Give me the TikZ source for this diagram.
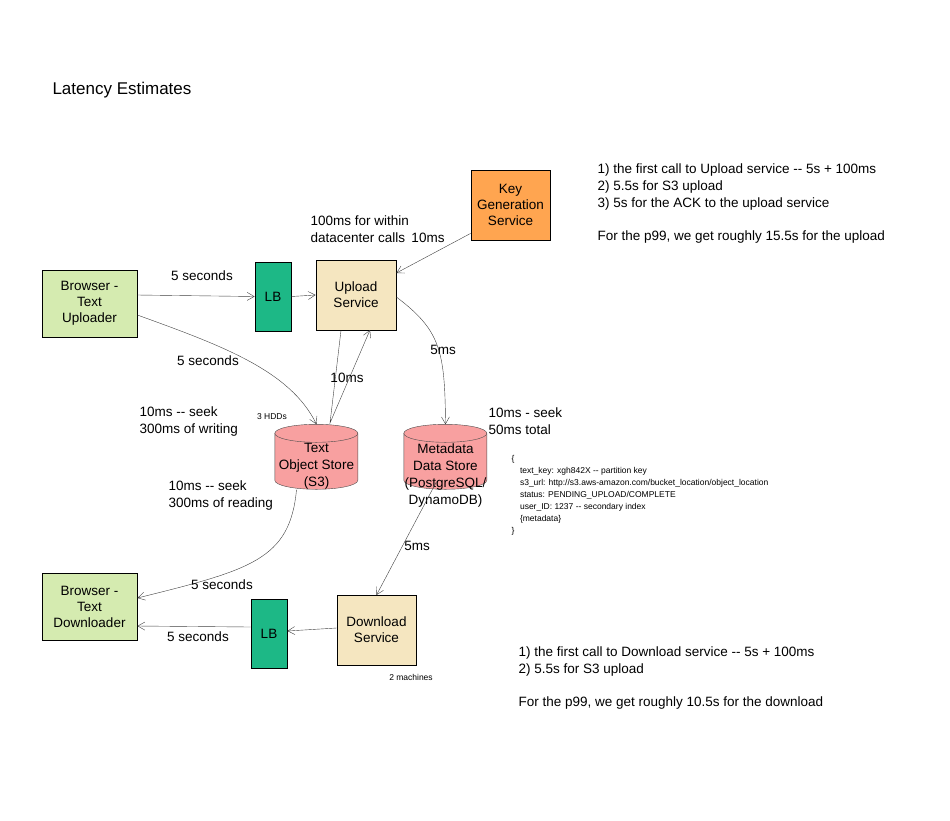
\documentclass[tikz,border=0pt]{standalone}
\usepackage{fontspec}
\setmainfont{Liberation Sans}
\usetikzlibrary{arrows.meta}
\definecolor{browsergreen}{HTML}{D5EBB0}
\definecolor{lbgreen}{HTML}{1DB886}
\definecolor{svctan}{HTML}{F5E6C0}
\definecolor{keyorange}{HTML}{FFA550}
\definecolor{storered}{HTML}{F8A0A0}
\tikzset{
  box/.style={draw, thick, rectangle, align=center, font=\fontsize{13.5}{16}\selectfont},
  store/.style={rectangle, minimum width=83pt, minimum height=65pt},
  lbl/.style={font=\fontsize{13.5}{17}\selectfont, align=left},
  tiny/.style={font=\fontsize{8.5}{12}\selectfont, align=left},
  link/.style={-{Straight Barb[length=7pt,width=8pt]}, draw=black!75}
}
\newcommand{\drumat}[1]{%
  \draw[fill=storered, draw=black!70] (#1.north west) ++(0,9) -- ++(0,47)
    arc[start angle=180, end angle=360, x radius=41.5pt, y radius=9pt] -- ++(0,-47)
    arc[start angle=0, end angle=180, x radius=41.5pt, y radius=9pt] -- cycle;
  \draw[draw=black!70] (#1.north west) ++(0,9)
    arc[start angle=180, end angle=360, x radius=41.5pt, y radius=9pt];
}
\begin{document}
\begin{tikzpicture}[x=1pt, y=-1pt]
    \useasboundingbox (0,0) rectangle (950,820);
    \node[anchor=west, font=\fontsize{17}{20}\selectfont] (title) at (49,90) {Latency Estimates};

    \node[box, fill=browsergreen, minimum width=95pt, minimum height=67pt] (uploader) at (89.5,303.5) {Browser -\\Text\\Uploader};
    \node[box, fill=lbgreen, minimum width=36pt, minimum height=69pt] (lbup) at (273,296.5) {LB};
    \node[box, fill=svctan, minimum width=80pt, minimum height=70pt] (upload) at (356,295) {Upload\\Service};
    \node[box, fill=keyorange, minimum width=79pt, minimum height=70pt] (keygen) at (510.5,205) {Key\\Generation\\Service};
    \node[store] (textstore) at (316.5,457) {};
    \drumat{textstore}
    \node[lbl, align=center] (textstoretxt) at (316.5,466) {Text\\Object Store\\(S3)};
    \node[store] (metastore) at (445.5,457) {};
    \drumat{metastore}
    \node[lbl, align=center] (metastoretxt) at (445.5,475) {Metadata\\Data Store\\(PostgreSQL/\\DynamoDB)};
    \node[box, fill=browsergreen, minimum width=95pt, minimum height=67pt] (downloader) at (89.5,606.5) {Browser -\\Text\\Downloader};
    \node[box, fill=lbgreen, minimum width=36pt, minimum height=69pt] (lbdown) at (269,633.5) {LB};
    \node[box, fill=svctan, minimum width=79pt, minimum height=70pt] (download) at (376.5,630) {Download\\Service};

    % upload path
    \draw[link] (uploader.east |- 0,295) -- (lbup.west);
    \draw[link] (lbup.east) -- (upload.west);
    \draw[link] (keygen.south west) ++(0,-7) coordinate (kg) -- (upload.east |- 0,273);
    \draw[link] (uploader.east |- 0,315) .. controls (220,345) and (290,370) .. (textstore.north);
    \draw[link] (upload.south) ++(-15,0) coordinate (us) -- (330,423) coordinate (st) -- (370,330);
    \draw[link] (upload.east |- 0,297) .. controls (440,330) and (445,350) .. (metastore.north);
    % download path
    \draw[link] (metastore.south) ++(-9,-8) coordinate (ms) -- (download.north |- 0,595);
    \draw[link] (textstore.south) ++(-20,0) coordinate (ts) .. controls (290,560) and (250,570) .. (downloader.east |- 0,598);
    \draw[link] (download.west |- 0,628) -- (lbdown.east |- 0,631);
    \draw[link] (lbdown.west |- 0,627) -- (downloader.east |- 0,626);

    % latency labels
    \node[lbl] (l1) at (202,276) {5 seconds};
    \node[lbl] (l2) at (208,361) {5 seconds};
    \node[lbl] (l3) at (428,238) {10ms};
    \node[lbl, anchor=west] (l4) at (307,229) {100ms for within\\datacenter calls};
    \node[lbl] (l5) at (347,378) {10ms};
    \node[lbl] (l6) at (443,350) {5ms};
    \node[lbl] (l7) at (417,546) {5ms};
    \node[lbl] (l8) at (222,585) {5 seconds};
    \node[lbl] (l9) at (198,637) {5 seconds};
    \node[tiny] (hdds) at (272,417) {3 HDDs};
    \node[tiny] (machines) at (411,677) {2 machines};
    \node[lbl, anchor=west] (writing) at (136,421) {10ms -{}- seek\\300ms of writing};
    \node[lbl, anchor=west] (reading) at (165,495) {10ms -{}- seek\\300ms of reading};
    \node[lbl, anchor=west] (metaseek) at (485,421) {10ms - seek\\50ms total};
    \node[tiny, anchor=north west] (schema) at (508,452) {\{\\\quad text\_key: xgh842X -{}- partition key\\\quad s3\_url: http://s3.aws-amazon.com/bucket\_location/object\_location\\\quad status: PENDING\_UPLOAD/COMPLETE\\\quad user\_ID: 1237 -{}- secondary index\\\quad \{metadata\}\\\}};
    \node[lbl, anchor=north west] (upnotes) at (594,160) {1) the first call to Upload service -{}- 5s + 100ms\\2) 5.5s for S3 upload\\3) 5s for the ACK to the upload service\\[16pt]For the p99, we get roughly 15.5s for the upload};
    \node[lbl, anchor=north west] (downnotes) at (515,643) {1) the first call to Download service -{}- 5s + 100ms\\2) 5.5s for S3 upload\\[16pt]For the p99, we get roughly 10.5s for the download};
\end{tikzpicture}
\end{document}
